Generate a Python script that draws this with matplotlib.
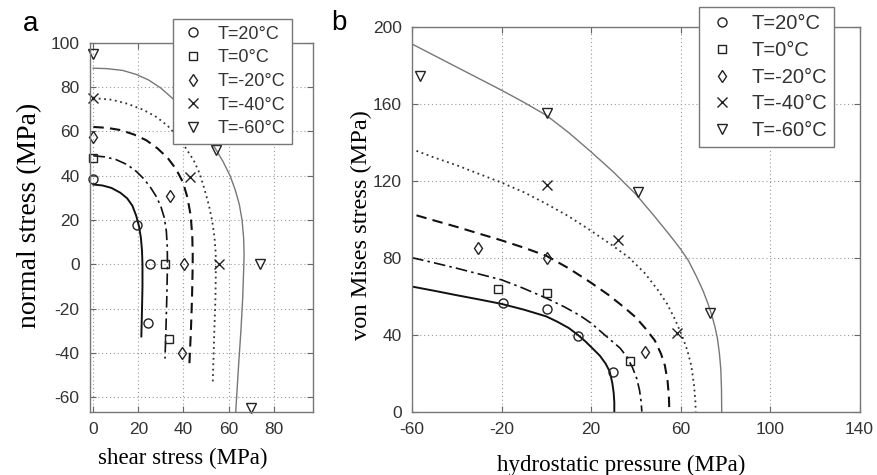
import numpy as np
import matplotlib.pyplot as plt

plt.rcParams['axes.unicode_minus'] = False

# temperaturas / etiquetas
labels = ['T=20°C', 'T=0°C', 'T=-20°C', 'T=-40°C', 'T=-60°C']
markers = ['o', 's', 'd', 'x', 'v']

# panel a: puntos experimentales (shear, normal)
a_pts_x = [[0, 19.2, 25.1, 24.4],
           [0, 32.0, 33.6],
           [0, 34.0, 40.4, 39.2],
           [0, 42.9, 55.8],
           [0, 54.3, 74.0, 70.0]]
a_pts_y = [[38.5, 17.7, 0, -26.3],
           [48.2, 0, -33.8],
           [57.5, 30.8, 0, -39.8],
           [75.0, 39.5, 0],
           [95.0, 51.5, 0, -64.8]]

# panel a: curvas del modelo
a_cur_x = [[0, 4, 8, 12, 15, 17.3, 19, 20.3, 21.1, 21.6, 21.8, 21.8, 21.6, 21.3],
           [0, 5, 10, 15, 19, 22.5, 25.5, 28, 30, 31.5, 32.4, 32.8, 32.9, 32.6, 32.2, 31.8],
           [0, 6, 12, 18, 23.5, 28.5, 33, 36.7, 39.8, 41.8, 43.2, 43.9, 44.1, 44.1, 43.8, 43.3, 42.6],
           [0, 8, 15, 22, 28, 33, 37, 41, 44.5, 47.2, 49.3, 51.2, 52.7, 53.8, 54.3, 54.4, 54.2, 53.7, 53],
           [0, 6, 13, 19, 24.5, 30, 35, 40, 44.5, 49, 54, 57.5, 60.7, 63, 64.8, 66, 66.7, 66.9, 66.8,
            66.3, 65.5, 64.5, 63.2]]
a_cur_y = [[36, 35.6, 34.5, 32.3, 29.8, 26.5, 22, 17, 12, 6, 0, -10, -20, -32.5],
           [49, 48.5, 47.3, 45, 42, 38.5, 34.5, 30.5, 26, 21, 15, 8, 0, -15, -30, -42.5],
           [62, 61.6, 60.6, 58.6, 56, 52.3, 48, 43, 37, 30, 22, 13, 5, 0, -15, -30, -45.5],
           [75, 74.3, 72.5, 69.8, 66.5, 62.5, 58, 52.5, 47, 41, 34, 27, 20, 12, 5, 0, -15, -30, -53],
           [88.5, 88.3, 87.5, 85.7, 83.2, 79.5, 75, 70, 64.5, 59, 52.5, 46.5, 40, 33.5, 27, 20, 12, 5, 0,
            -15, -30, -45, -66.5]]

# panel b: puntos experimentales (presion hidrostatica, von Mises)
b_pts_x = [[-19.2, 0.2, 14.1, 30.0],
           [-21.4, 0.2, 37.4],
           [-30.4, 0.2, 44.1],
           [0.2, 32.0, 58.3],
           [-56.4, 0.2, 41.1, 73.2]]
b_pts_y = [[56.6, 53.2, 39.3, 20.8],
           [63.6, 61.5, 26.3],
           [84.9, 79.7, 31.2],
           [117.8, 89.2, 40.7],
           [174.4, 155.3, 114.3, 51.4]]

# panel b: curvas del modelo
b_cur_x = [[-60, -50, -40, -30, -20, -10, 0, 5, 10, 14, 17.5, 21, 24, 26.5, 28.3, 29.5, 30.1, 30.4, 30.4],
           [-60, -50, -40, -30, -20, -10, 0, 8, 15, 20, 25, 29, 33, 36, 38.5, 40.5, 41.7, 42.4, 42.7],
           [-58, -50, -40, -30, -20, -10, 0, 10, 20, 28, 35, 40, 44.5, 48.5, 51.3, 53, 54.2, 54.8, 55],
           [-58, -50, -40, -30, -20, -10, 0, 10, 20, 30, 37, 44, 50, 54, 57.5, 60.5, 63, 64.8, 66, 66.6, 66.8],
           [-60, -50, -40, -30, -20, -10, 0, 10, 20, 30, 40, 48, 55, 60, 63.5, 67, 70, 72.3, 74, 75.4, 76.5,
            77.4, 78, 78.3, 78.4]]
b_cur_y = [[65, 62.8, 60.5, 58.3, 56, 53, 49.5, 46.7, 43.5, 40, 36.5, 32.5, 29, 25, 21, 15, 10, 5, 0],
           [80, 77.3, 74.5, 71.5, 68.5, 64, 59, 54.5, 50, 46, 41, 37, 33, 28.5, 23, 17, 11, 5, 0],
           [102, 99.3, 96, 92.5, 89, 85.2, 81, 74.5, 67, 60.5, 54, 49, 43, 37, 30, 24, 16, 8, 0],
           [135.5, 132, 128, 123.5, 119, 114, 108, 101.5, 94, 86, 80, 72, 63, 56, 48, 40, 32, 24, 14, 6, 0],
           [191, 185, 179, 173, 167, 160.7, 154, 145, 135, 124.5, 113, 102, 92, 84.5, 78.5, 70.5, 63, 56, 50,
            44, 38, 30, 22, 12, 0]]

# estilos de las curvas
estilos = [dict(color='#111111', lw=1.4, ls='-'),
           dict(color='#111111', lw=1.2, ls=(0, (7, 2.5, 1.5, 2.5))),
           dict(color='#111111', lw=1.5, ls=(0, (5, 3))),
           dict(color='#333333', lw=1.3, ls=(0, (1, 2))),
           dict(color='#777777', lw=1.0, ls='-')]
msize = [6.5, 6, 6.5, 7, 7]

tick_font = 'Liberation Sans'
label_font = 'Liberation Serif'

fig = plt.figure(figsize=(8.77, 4.75), dpi=100)
ax1 = fig.add_axes([0.1026, 0.1326, 0.2543, 0.7775])
ax2 = fig.add_axes([0.4698, 0.1333, 0.5103, 0.8105])


def estilo_ejes(ax):
    ax.grid(True, color='#9a9a9a', lw=0.8, ls=(0, (1, 2.5)))
    ax.set_axisbelow(True)
    ax.tick_params(direction='in', top=True, right=True, length=4,
                   color='#666666', labelsize=12.5, pad=7.5)
    for s in ax.spines.values():
        s.set_color('#777777')
        s.set_linewidth(1.0)
    for t in ax.get_xticklabels() + ax.get_yticklabels():
        t.set_fontfamily(tick_font)
        t.set_color('#333333')


# panel a
for i in range(5):
    ax1.plot(a_cur_x[i], a_cur_y[i], **estilos[i])
handles = []
for i in range(5):
    h, = ax1.plot(a_pts_x[i], a_pts_y[i], ls='none', marker=markers[i],
                  ms=msize[i], mfc='none', mec='#222222', mew=1.0,
                  clip_on=False, label=labels[i])
    handles.append(h)
ax1.set_xlim(-1.5, 97.5)
ax1.set_ylim(-66.6, 100)
ax1.set_xticks([0, 20, 40, 60, 80])
ax1.set_yticks(np.arange(-60, 101, 20))
estilo_ejes(ax1)
ax1.set_xlabel('shear stress (MPa)', fontfamily=label_font, fontsize=16.5)
ax1.set_ylabel('normal stress (MPa)', fontfamily=label_font, fontsize=20)
ax1.xaxis.set_label_coords(0.417, -0.097)
ax1.yaxis.set_label_coords(-0.213, 0.532)

# panel b
for i in range(5):
    ax2.plot(b_cur_x[i], b_cur_y[i], **estilos[i])
for i in range(5):
    ax2.plot(b_pts_x[i], b_pts_y[i], ls='none', marker=markers[i],
             ms=msize[i], mfc='none', mec='#222222', mew=1.0, clip_on=False)
ax2.set_xlim(-60, 140)
ax2.set_ylim(0, 200)
ax2.set_xticks([-60, -20, 20, 60, 100, 140])
ax2.set_yticks([0, 40, 80, 120, 160, 200])
estilo_ejes(ax2)
ax2.set_xlabel('hydrostatic pressure (MPa)', fontfamily=label_font, fontsize=16.5)
ax2.set_ylabel('von Mises stress (MPa)', fontfamily=label_font, fontsize=17.6)
ax2.xaxis.set_label_coords(0.468, -0.112)
ax2.yaxis.set_label_coords(-0.089, 0.485)

# leyendas (la de b es algo mayor)
for x0, y0, fs, sp, tp in [(172.7 / 877, 1 - 19.3 / 475, 13, 0.37, 0.55),
                           (699.3 / 877, 1 - 7.3 / 475, 14.5, 0.38, 0.65)]:
    leg = fig.legend(handles=handles, loc='upper left', bbox_to_anchor=(x0, y0),
                     bbox_transform=fig.transFigure, frameon=True, fancybox=False,
                     framealpha=1, edgecolor='#777777', borderpad=0.35,
                     borderaxespad=0, labelspacing=sp, handletextpad=tp,
                     handlelength=1.6, prop={'family': tick_font, 'size': fs})
    leg.get_frame().set_linewidth(1.0)
    for t in leg.get_texts():
        t.set_color('#333333')

fig.text(31 / 877, 1 - 24 / 475, 'a', fontfamily=tick_font, fontsize=20,
         ha='center', va='center')
fig.text(339 / 877, 1 - 23 / 475, 'b', fontfamily=tick_font, fontsize=20,
         ha='center', va='center')

fig.savefig('out.png', dpi=100)
